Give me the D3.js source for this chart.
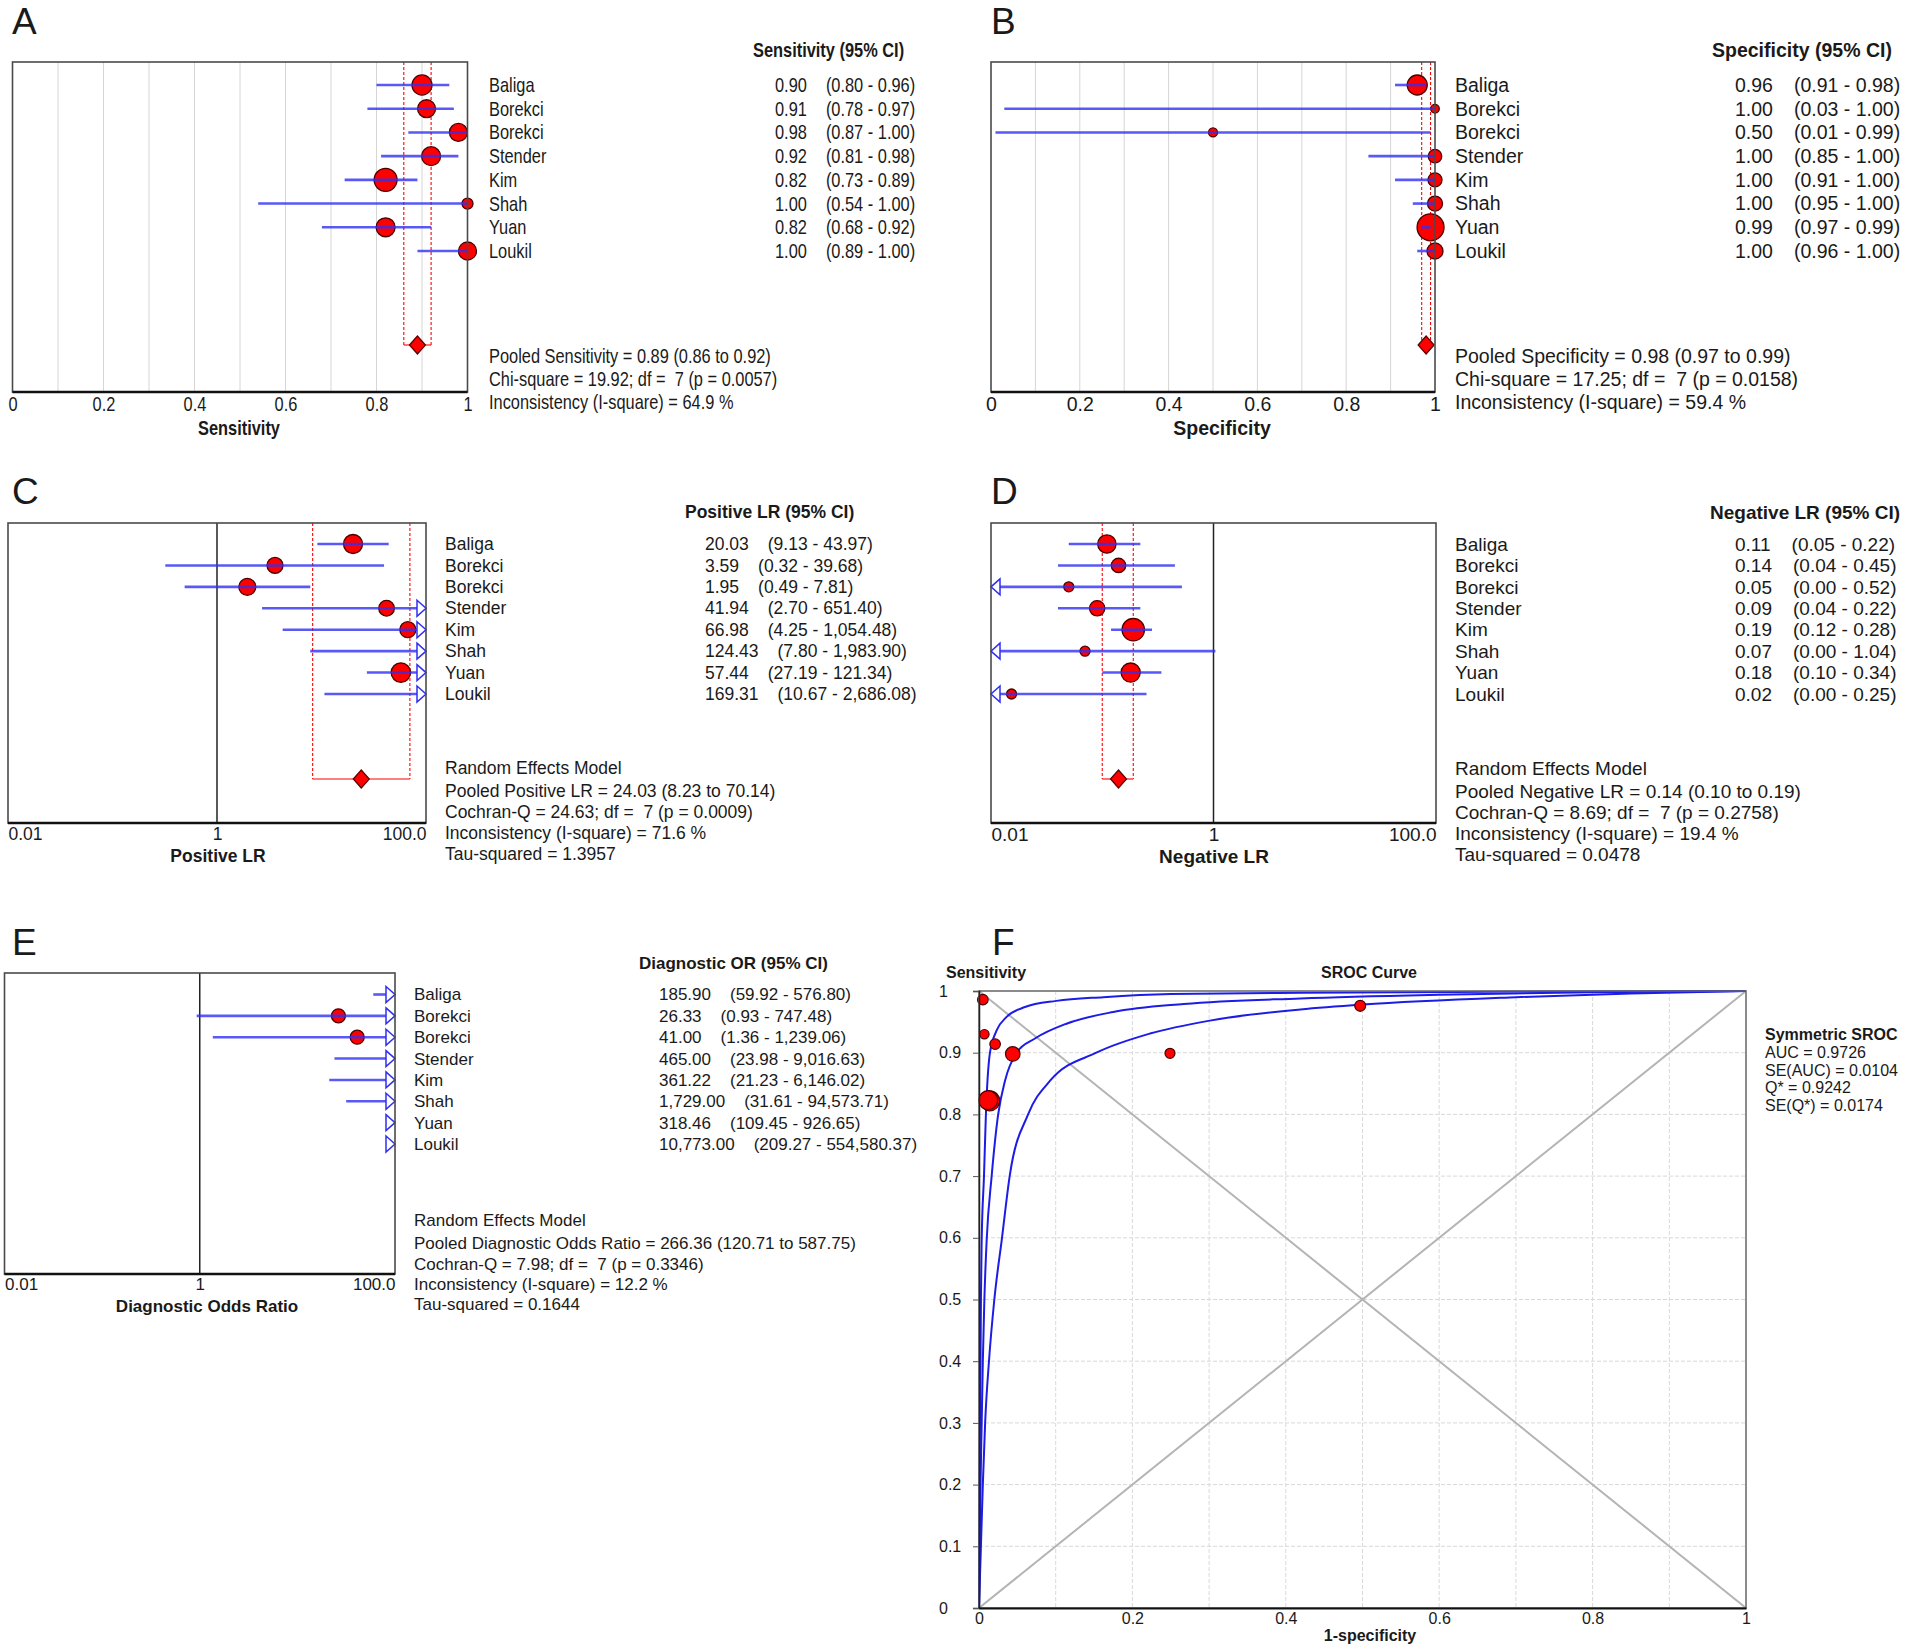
<!DOCTYPE html>
<html>
<head>
<meta charset="utf-8">
<script src="https://cdn.jsdelivr.net/npm/d3@7/dist/d3.min.js"></script>
<style>
  body { margin: 0; background: #fff; }
  text { fill: #1a1a1a; white-space: pre; }
</style>
</head>
<body>
<div id="chart"></div>
<script>
// ---- data ----
const studies = ['Baliga', 'Borekci', 'Borekci', 'Stender', 'Kim', 'Shah', 'Yuan', 'Loukil'];

const sensEst = [0.90, 0.91, 0.98, 0.92, 0.82, 1.00, 0.82, 1.00];
const sensLo  = [0.80, 0.78, 0.87, 0.81, 0.73, 0.54, 0.68, 0.89];
const sensHi  = [0.96, 0.97, 1.00, 0.98, 0.89, 1.00, 0.92, 1.00];
const sensW   = [76, 61, 61, 68, 100, 23, 68, 61];
const sensPooled = [0.89, 0.86, 0.92];
const sensStats = [
  'Pooled Sensitivity = 0.89 (0.86 to 0.92)',
  'Chi-square = 19.92; df =  7 (p = 0.0057)',
  'Inconsistency (I-square) = 64.9 %'
];

const specEst = [0.96, 1.00, 0.50, 1.00, 1.00, 1.00, 0.99, 1.00];
const specLo  = [0.91, 0.03, 0.01, 0.85, 0.91, 0.95, 0.97, 0.96];
const specHi  = [0.98, 1.00, 0.99, 1.00, 1.00, 1.00, 0.99, 1.00];
const specW   = [55, 10, 11, 25, 27, 31, 100, 35];
const specPooled = [0.98, 0.97, 0.99];
const specStats = [
  'Pooled Specificity = 0.98 (0.97 to 0.99)',
  'Chi-square = 17.25; df =  7 (p = 0.0158)',
  'Inconsistency (I-square) = 59.4 %'
];

const plrEst = [20.03, 3.59, 1.95, 41.94, 66.98, 124.43, 57.44, 169.31];
const plrLo  = [9.13, 0.32, 0.49, 2.70, 4.25, 7.80, 27.19, 10.67];
const plrHi  = [43.97, 39.68, 7.81, 651.40, 1054.48, 1983.90, 121.34, 2686.08];
const plrW   = [96, 68, 77, 65, 68, 38, 100, 38];
const plrPooled = [24.03, 8.23, 70.14];
const plrStats = [
  'Random Effects Model',
  'Pooled Positive LR = 24.03 (8.23 to 70.14)',
  'Cochran-Q = 24.63; df =  7 (p = 0.0009)',
  'Inconsistency (I-square) = 71.6 %',
  'Tau-squared = 1.3957'
];

const nlrEst = [0.11, 0.14, 0.05, 0.09, 0.19, 0.07, 0.18, 0.0153];
const nlrLo  = [0.05, 0.04, 0.002, 0.04, 0.12, 0.002, 0.10, 0.002];
const nlrHi  = [0.22, 0.45, 0.52, 0.22, 0.28, 1.04, 0.34, 0.25];
const nlrW   = [67, 41, 20, 47, 100, 20, 73, 20];
const nlrPooled = [0.14, 0.10, 0.19];
const nlrStats = [
  'Random Effects Model',
  'Pooled Negative LR = 0.14 (0.10 to 0.19)',
  'Cochran-Q = 8.69; df =  7 (p = 0.2758)',
  'Inconsistency (I-square) = 19.4 %',
  'Tau-squared = 0.0478'
];

const dorEst = [185.90, 26.33, 41.00, 465.00, 361.22, 1729.00, 318.46, 10773.00];
const dorLo  = [59.92, 0.93, 1.36, 23.98, 21.23, 31.61, 109.45, 209.27];
const dorHi  = [576.80, 747.48, 1239.06, 9016.63, 6146.02, 94573.71, 926.65, 554580.37];
const dorW   = [80, 100, 100, 60, 60, 45, 90, 40];
const dorPooled = [266.36, 120.71, 587.75];
const dorStats = [
  'Random Effects Model',
  'Pooled Diagnostic Odds Ratio = 266.36 (120.71 to 587.75)',
  'Cochran-Q = 7.98; df =  7 (p = 0.3346)',
  'Inconsistency (I-square) = 12.2 %',
  'Tau-squared = 0.1644'
];

// SROC: study points (1-specificity, sensitivity) and the three curves
const srocFpr = [0.044, 0.249, 0.497, 0.021, 0.012, 0.007, 0.014, 0.005];
const srocTpr = [0.898, 0.899, 0.976, 0.914, 0.823, 0.930, 0.822, 0.986];
const srocW   = [53, 25, 30, 28, 90, 22, 100, 28];
const curveOuter = [[0, 0], [0.0025, 0.1], [0.005, 0.2], [0.008, 0.3], [0.013, 0.4], [0.02, 0.5],
  [0.03, 0.6], [0.04, 0.7], [0.064, 0.8], [0.093, 0.855], [0.153, 0.9], [0.223, 0.931],
  [0.301, 0.952], [0.419, 0.97], [0.5, 0.978], [0.7, 0.99], [0.85, 0.996], [1, 1]];
const curveMid = [[0, 0], [0.001, 0.1], [0.002, 0.2], [0.0035, 0.3], [0.005, 0.4], [0.007, 0.5],
  [0.01, 0.596], [0.0165, 0.7], [0.025, 0.8], [0.034, 0.855], [0.049, 0.9], [0.073, 0.923],
  [0.114, 0.947], [0.175, 0.966], [0.267, 0.979], [0.419, 0.988], [0.6, 0.994], [0.8, 0.998], [1, 1]];
const curveInner = [[0, 0], [0.0004, 0.1], [0.0008, 0.2], [0.0013, 0.3], [0.002, 0.4], [0.0025, 0.5],
  [0.0035, 0.596], [0.0065, 0.7], [0.009, 0.8], [0.0143, 0.9], [0.023, 0.936], [0.036, 0.958],
  [0.06, 0.974], [0.101, 0.984], [0.162, 0.99], [0.25, 0.995], [0.42, 0.997], [0.7, 0.999], [1, 1]];
const srocLegend = ['AUC = 0.9726', 'SE(AUC) = 0.0104', 'Q* = 0.9242', 'SE(Q*) = 0.0174'];

const unitTicks = [0, 0.2, 0.4, 0.6, 0.8, 1];
const logTicks = [0.01, 1, 100];
const logTickText = ['0.01', '1', '100.0'];

// ---- drawing ----
const SANS = "'Liberation Sans', Arial, Helvetica, sans-serif";
const BLUE = '#2f2ff2';
const RED = '#ff0000';

const svg = d3.select('#chart').append('svg')
  .attr('width', 1908)
  .attr('height', 1648)
  .style('background', '#fff');

function panelLetter(letter, x, y) {
  svg.append('text')
    .attr('x', x).attr('y', y)
    .style('font-family', SANS)
    .style('font-size', '37px')
    .text(letter);
}

function forest(p) {
  const g = svg.append('g')
    .style('font-family', SANS)
    .style('font-size', p.size + 'px');

  // horizontal squeeze for the condensed-looking panel
  const at = (xx, yy) => `translate(${xx},${yy}) scale(${p.sx},1)`;

  const x = (p.log ? d3.scaleLog() : d3.scaleLinear())
    .domain(p.domain)
    .range([p.x0, p.x1]);
  const y = d3.scalePoint()
    .domain(d3.range(studies.length))
    .range([p.rowTop, p.rowBottom]);
  const r = d3.scaleSqrt().domain([0, 100]).range([0, p.rmax]);
  const fmt = d3.format(p.log ? ',.2f' : '.2f');
  const [d0, d1] = p.domain;

  const rows = studies.map((s, i) => ({
    name: s, i, est: p.est[i], lo: p.lo[i], hi: p.hi[i], w: p.w[i]
  }));

  // light vertical grid
  if (p.grid) {
    g.append('g').selectAll('line')
      .data(d3.range(0.1, 0.95, 0.1))
      .enter().append('line')
        .attr('x1', d => x(d)).attr('x2', d => x(d))
        .attr('y1', p.y0).attr('y2', p.y1)
        .attr('stroke', '#d6d6d6')
        .attr('stroke-width', 1);
  }

  // line of no effect
  if (p.log) {
    g.append('line')
      .attr('x1', x(1)).attr('x2', x(1))
      .attr('y1', p.y0).attr('y2', p.y1)
      .attr('stroke', '#222')
      .attr('stroke-width', 1.5);
  }

  // pooled estimate: dashed CI band + diamond
  const [pe, pl, ph] = p.pooled;
  if (pe >= d0 && pe <= d1) {
    const band = g.append('g').attr('stroke', RED).attr('fill', 'none').attr('stroke-width', 1.1);
    [pl, ph].forEach(v => {
      band.append('line')
        .attr('x1', x(v)).attr('x2', x(v))
        .attr('y1', p.y0).attr('y2', p.diamondY)
        .attr('stroke-dasharray', '3,2');
    });
    band.append('line')
      .attr('x1', x(pl)).attr('x2', x(ph))
      .attr('y1', p.diamondY).attr('y2', p.diamondY);
    const cx = x(pe);
    const cy = p.diamondY;
    g.append('path')
      .attr('d', `M${cx - 8},${cy} L${cx},${cy - 9} L${cx + 8},${cy} L${cx},${cy + 9} Z`)
      .attr('fill', RED)
      .attr('stroke', '#5a0000')
      .attr('stroke-width', 1.2);
  }

  // study points
  g.append('g').selectAll('circle')
    .data(rows.filter(d => d.est >= d0 && d.est <= d1))
    .enter().append('circle')
      .attr('cx', d => x(d.est))
      .attr('cy', d => y(d.i))
      .attr('r', d => r(d.w))
      .attr('fill', RED)
      .attr('stroke', '#4a0000')
      .attr('stroke-width', 1.3);

  // confidence intervals, arrows where they run off the scale
  const tw = 9, th = 8;
  const clampLo = d => d.lo < d0 ? x(d0) + tw : x(Math.min(d.lo, d1));
  const clampHi = d => d.hi > d1 ? x(d1) - tw : x(Math.max(d.hi, d0));
  g.append('g').selectAll('line')
    .data(rows.filter(d => clampHi(d) > clampLo(d)))
    .enter().append('line')
      .attr('x1', clampLo)
      .attr('x2', clampHi)
      .attr('y1', d => y(d.i))
      .attr('y2', d => y(d.i))
      .attr('stroke', BLUE)
      .attr('stroke-opacity', 0.8)
      .attr('stroke-width', 2.6);

  g.append('g').selectAll('path')
    .data(rows.filter(d => d.hi > d1))
    .enter().append('path')
      .attr('d', d => {
        const xe = x(d1), yy = y(d.i);
        return `M${xe - tw},${yy - th} L${xe},${yy} L${xe - tw},${yy + th} Z`;
      })
      .attr('fill', '#fff')
      .attr('stroke', BLUE)
      .attr('stroke-width', 1.5);

  g.append('g').selectAll('path')
    .data(rows.filter(d => d.lo < d0))
    .enter().append('path')
      .attr('d', d => {
        const xe = x(d0), yy = y(d.i);
        return `M${xe + tw},${yy - th} L${xe},${yy} L${xe + tw},${yy + th} Z`;
      })
      .attr('fill', '#fff')
      .attr('stroke', BLUE)
      .attr('stroke-width', 1.5);

  // frame
  g.append('rect')
    .attr('x', p.x0).attr('y', p.y0)
    .attr('width', p.x1 - p.x0).attr('height', p.y1 - p.y0)
    .attr('fill', 'none')
    .attr('stroke', '#4a4a4a')
    .attr('stroke-width', 1.6);
  g.append('line')
    .attr('x1', p.x0).attr('x2', p.x1)
    .attr('y1', p.y1).attr('y2', p.y1)
    .attr('stroke', '#111')
    .attr('stroke-width', 2.4);

  // x axis
  const axis = d3.axisBottom(x).tickSize(0);
  if (p.log) {
    axis.tickValues(logTicks).tickFormat((d, i) => logTickText[i]);
  } else {
    axis.tickValues(unitTicks).tickFormat(d3.format('~g'));
  }
  const ax = g.append('g')
    .attr('transform', `translate(0,${p.y1})`)
    .call(axis)
    .attr('font-family', SANS)
    .attr('font-size', p.size);
  ax.select('.domain').remove();
  ax.selectAll('.tick text')
    .attr('y', 0)
    .attr('dy', '0.35em')
    .attr('transform', at(0, p.labelY - p.y1))
    .attr('fill', '#1a1a1a')
    .attr('text-anchor', (d, i) => p.log ? ['start', 'middle', 'end'][i] : 'middle');

  g.append('text')
    .attr('transform', at(p.titleX, p.titleY))
    .attr('dy', '0.35em')
    .attr('text-anchor', 'middle')
    .style('font-weight', 'bold')
    .text(p.title);

  // study labels and values
  g.append('text')
    .attr('transform', at(p.valX - p.headShift, p.headY))
    .attr('dy', '0.35em')
    .style('font-weight', 'bold')
    .text(p.header);

  const lab = g.append('g').selectAll('g')
    .data(rows)
    .enter().append('g')
      .attr('transform', d => `translate(0,${y(d.i)})`);
  lab.append('text')
    .attr('transform', at(p.nameX, 0))
    .attr('dy', '0.35em')
    .text(d => d.name);
  lab.append('text')
    .attr('class', 'val')
    .attr('transform', at(p.valX, 0))
    .attr('dy', '0.35em')
    .text(d => fmt(d.est));
  lab.append('text')
    .attr('dy', '0.35em')
    .text(d => `(${fmt(d.lo)} - ${fmt(d.hi)})`)
    .attr('transform', function () {
      const v = this.parentNode.querySelector('.val');
      return at(p.valX + v.getComputedTextLength() * p.sx + p.gap, 0);
    });

  g.append('g').selectAll('text')
    .data(p.stats)
    .enter().append('text')
      .attr('transform', (d, i) => at(p.nameX, p.statsY[i]))
      .attr('dy', '0.35em')
      .text(d => d);
}

// A
panelLetter('A', 12, 34);
forest({
  est: sensEst, lo: sensLo, hi: sensHi, w: sensW, pooled: sensPooled, stats: sensStats,
  domain: [0, 1], log: false, grid: true,
  x0: 12.5, x1: 467.5, y0: 62, y1: 392, rowTop: 85, rowBottom: 251, diamondY: 345, rmax: 11.5,
  size: 20, sx: 0.82, nameX: 489, valX: 775, gap: 19, headShift: 22, headY: 50,
  header: 'Sensitivity (95% CI)', statsY: [356, 379, 402], labelY: 404,
  title: 'Sensitivity', titleX: 239, titleY: 428
});

// B
panelLetter('B', 991, 34);
forest({
  est: specEst, lo: specLo, hi: specHi, w: specW, pooled: specPooled, stats: specStats,
  domain: [0, 1], log: false, grid: true,
  x0: 991, x1: 1435, y0: 62, y1: 392, rowTop: 85, rowBottom: 251, diamondY: 345, rmax: 13.5,
  size: 19.5, sx: 1, nameX: 1455, valX: 1735, gap: 21, headShift: 23, headY: 50,
  header: 'Specificity (95% CI)', statsY: [356, 379, 402], labelY: 404,
  title: 'Specificity', titleX: 1222, titleY: 428
});

// C
panelLetter('C', 12, 504);
forest({
  est: plrEst, lo: plrLo, hi: plrHi, w: plrW, pooled: plrPooled, stats: plrStats,
  domain: [0.01, 100], log: true, grid: false,
  x0: 8, x1: 426, y0: 523, y1: 823, rowTop: 544, rowBottom: 694, diamondY: 779, rmax: 9.7,
  size: 17.5, sx: 1, nameX: 445, valX: 705, gap: 19, headShift: 20, headY: 512,
  header: 'Positive LR (95% CI)', statsY: [768, 791, 812, 833, 854], labelY: 834,
  title: 'Positive LR', titleX: 218, titleY: 856
});

// D
panelLetter('D', 991, 504);
forest({
  est: nlrEst, lo: nlrLo, hi: nlrHi, w: nlrW, pooled: nlrPooled, stats: nlrStats,
  domain: [0.01, 100], log: true, grid: false,
  x0: 991, x1: 1436, y0: 523, y1: 823, rowTop: 544, rowBottom: 694, diamondY: 779, rmax: 11.2,
  size: 19, sx: 1, nameX: 1455, valX: 1735, gap: 21, headShift: 25, headY: 512,
  header: 'Negative LR (95% CI)', statsY: [768, 791, 812, 833, 854], labelY: 834,
  title: 'Negative LR', titleX: 1214, titleY: 856
});

// E
panelLetter('E', 12, 955);
forest({
  est: dorEst, lo: dorLo, hi: dorHi, w: dorW, pooled: dorPooled, stats: dorStats,
  domain: [0.01, 100], log: true, grid: false,
  x0: 4.5, x1: 395, y0: 973, y1: 1274, rowTop: 994.5, rowBottom: 1144, diamondY: 1228, rmax: 7,
  size: 17, sx: 1, nameX: 414, valX: 659, gap: 19, headShift: 20, headY: 963,
  header: 'Diagnostic OR (95% CI)', statsY: [1220, 1243, 1264, 1284, 1304], labelY: 1284,
  title: 'Diagnostic Odds Ratio', titleX: 207, titleY: 1306
});

// F : SROC curve
(function sroc() {
  const x0 = 979, x1 = 1746, y0 = 991, y1 = 1608;
  const g = svg.append('g')
    .style('font-family', SANS)
    .style('font-size', '16px');
  const x = d3.scaleLinear().domain([0, 1]).range([x0, x1]);
  const y = d3.scaleLinear().domain([0, 1]).range([y1, y0]);
  const r = d3.scaleSqrt().domain([0, 100]).range([0, 10]);
  const tenths = d3.range(0.1, 0.95, 0.1);

  panelLetter('F', 992, 955);

  const grid = g.append('g')
    .attr('stroke', '#d9d9d9')
    .attr('stroke-width', 1)
    .attr('stroke-dasharray', '4,2');
  grid.selectAll('line.v').data(tenths).enter().append('line')
    .attr('x1', d => x(d)).attr('x2', d => x(d))
    .attr('y1', y0).attr('y2', y1);
  grid.selectAll('line.h').data(tenths).enter().append('line')
    .attr('x1', x0).attr('x2', x1)
    .attr('y1', d => y(d)).attr('y2', d => y(d));

  g.append('line')
    .attr('x1', x(0)).attr('y1', y(0)).attr('x2', x(1)).attr('y2', y(1))
    .attr('stroke', '#b4b4b4').attr('stroke-width', 2);
  g.append('line')
    .attr('x1', x(0)).attr('y1', y(1)).attr('x2', x(1)).attr('y2', y(0))
    .attr('stroke', '#b4b4b4').attr('stroke-width', 2);

  const line = d3.line()
    .x(d => x(d[0]))
    .y(d => y(d[1]))
    .curve(d3.curveMonotoneX);
  g.append('g').selectAll('path')
    .data([curveOuter, curveMid, curveInner])
    .enter().append('path')
      .attr('d', line)
      .attr('fill', 'none')
      .attr('stroke', '#1c1ce6')
      .attr('stroke-width', 2);

  g.append('g').selectAll('circle')
    .data(d3.range(srocFpr.length).sort((a, b) => srocW[b] - srocW[a]))
    .enter().append('circle')
      .attr('cx', i => x(srocFpr[i]))
      .attr('cy', i => y(srocTpr[i]))
      .attr('r', i => r(srocW[i]))
      .attr('fill', RED)
      .attr('stroke', '#4a0000')
      .attr('stroke-width', 1.2);

  g.append('rect')
    .attr('x', x0).attr('y', y0)
    .attr('width', x1 - x0).attr('height', y1 - y0)
    .attr('fill', 'none')
    .attr('stroke', '#666')
    .attr('stroke-width', 1.5);

  const ay = g.append('g')
    .attr('transform', `translate(${x0},0)`)
    .call(d3.axisLeft(y).tickValues(d3.range(0, 1.01, 0.1)).tickFormat(d3.format('~g')).tickSize(6).tickPadding(4))
    .attr('font-family', SANS)
    .attr('font-size', 16);
  ay.select('.domain').attr('stroke', '#222').attr('stroke-width', 1.5);
  ay.selectAll('.tick line').attr('stroke', '#555');
  ay.selectAll('.tick text')
    .attr('text-anchor', 'start')
    .attr('x', 939 - x0)
    .attr('fill', '#1a1a1a');

  const axb = g.append('g')
    .attr('transform', `translate(0,${y1})`)
    .call(d3.axisBottom(x).tickValues(unitTicks).tickFormat(d3.format('~g')).tickSize(0).tickPadding(5))
    .attr('font-family', SANS)
    .attr('font-size', 16);
  axb.select('.domain').attr('stroke', '#111').attr('stroke-width', 2);
  axb.selectAll('.tick text').attr('fill', '#1a1a1a');

  g.append('text')
    .attr('x', 946).attr('y', 972).attr('dy', '0.35em')
    .style('font-weight', 'bold')
    .text('Sensitivity');
  g.append('text')
    .attr('x', 1369).attr('y', 972).attr('dy', '0.35em')
    .attr('text-anchor', 'middle')
    .style('font-weight', 'bold')
    .text('SROC Curve');
  g.append('text')
    .attr('x', 1370).attr('y', 1635).attr('dy', '0.35em')
    .attr('text-anchor', 'middle')
    .style('font-weight', 'bold')
    .text('1-specificity');

  g.append('text')
    .attr('x', 1765).attr('y', 1034).attr('dy', '0.35em')
    .style('font-weight', 'bold')
    .text('Symmetric SROC');
  g.append('g').selectAll('text')
    .data(srocLegend)
    .enter().append('text')
      .attr('x', 1765)
      .attr('y', (d, i) => 1052.5 + i * 17.5)
      .attr('dy', '0.35em')
      .text(d => d);
})();
</script>
</body>
</html>
